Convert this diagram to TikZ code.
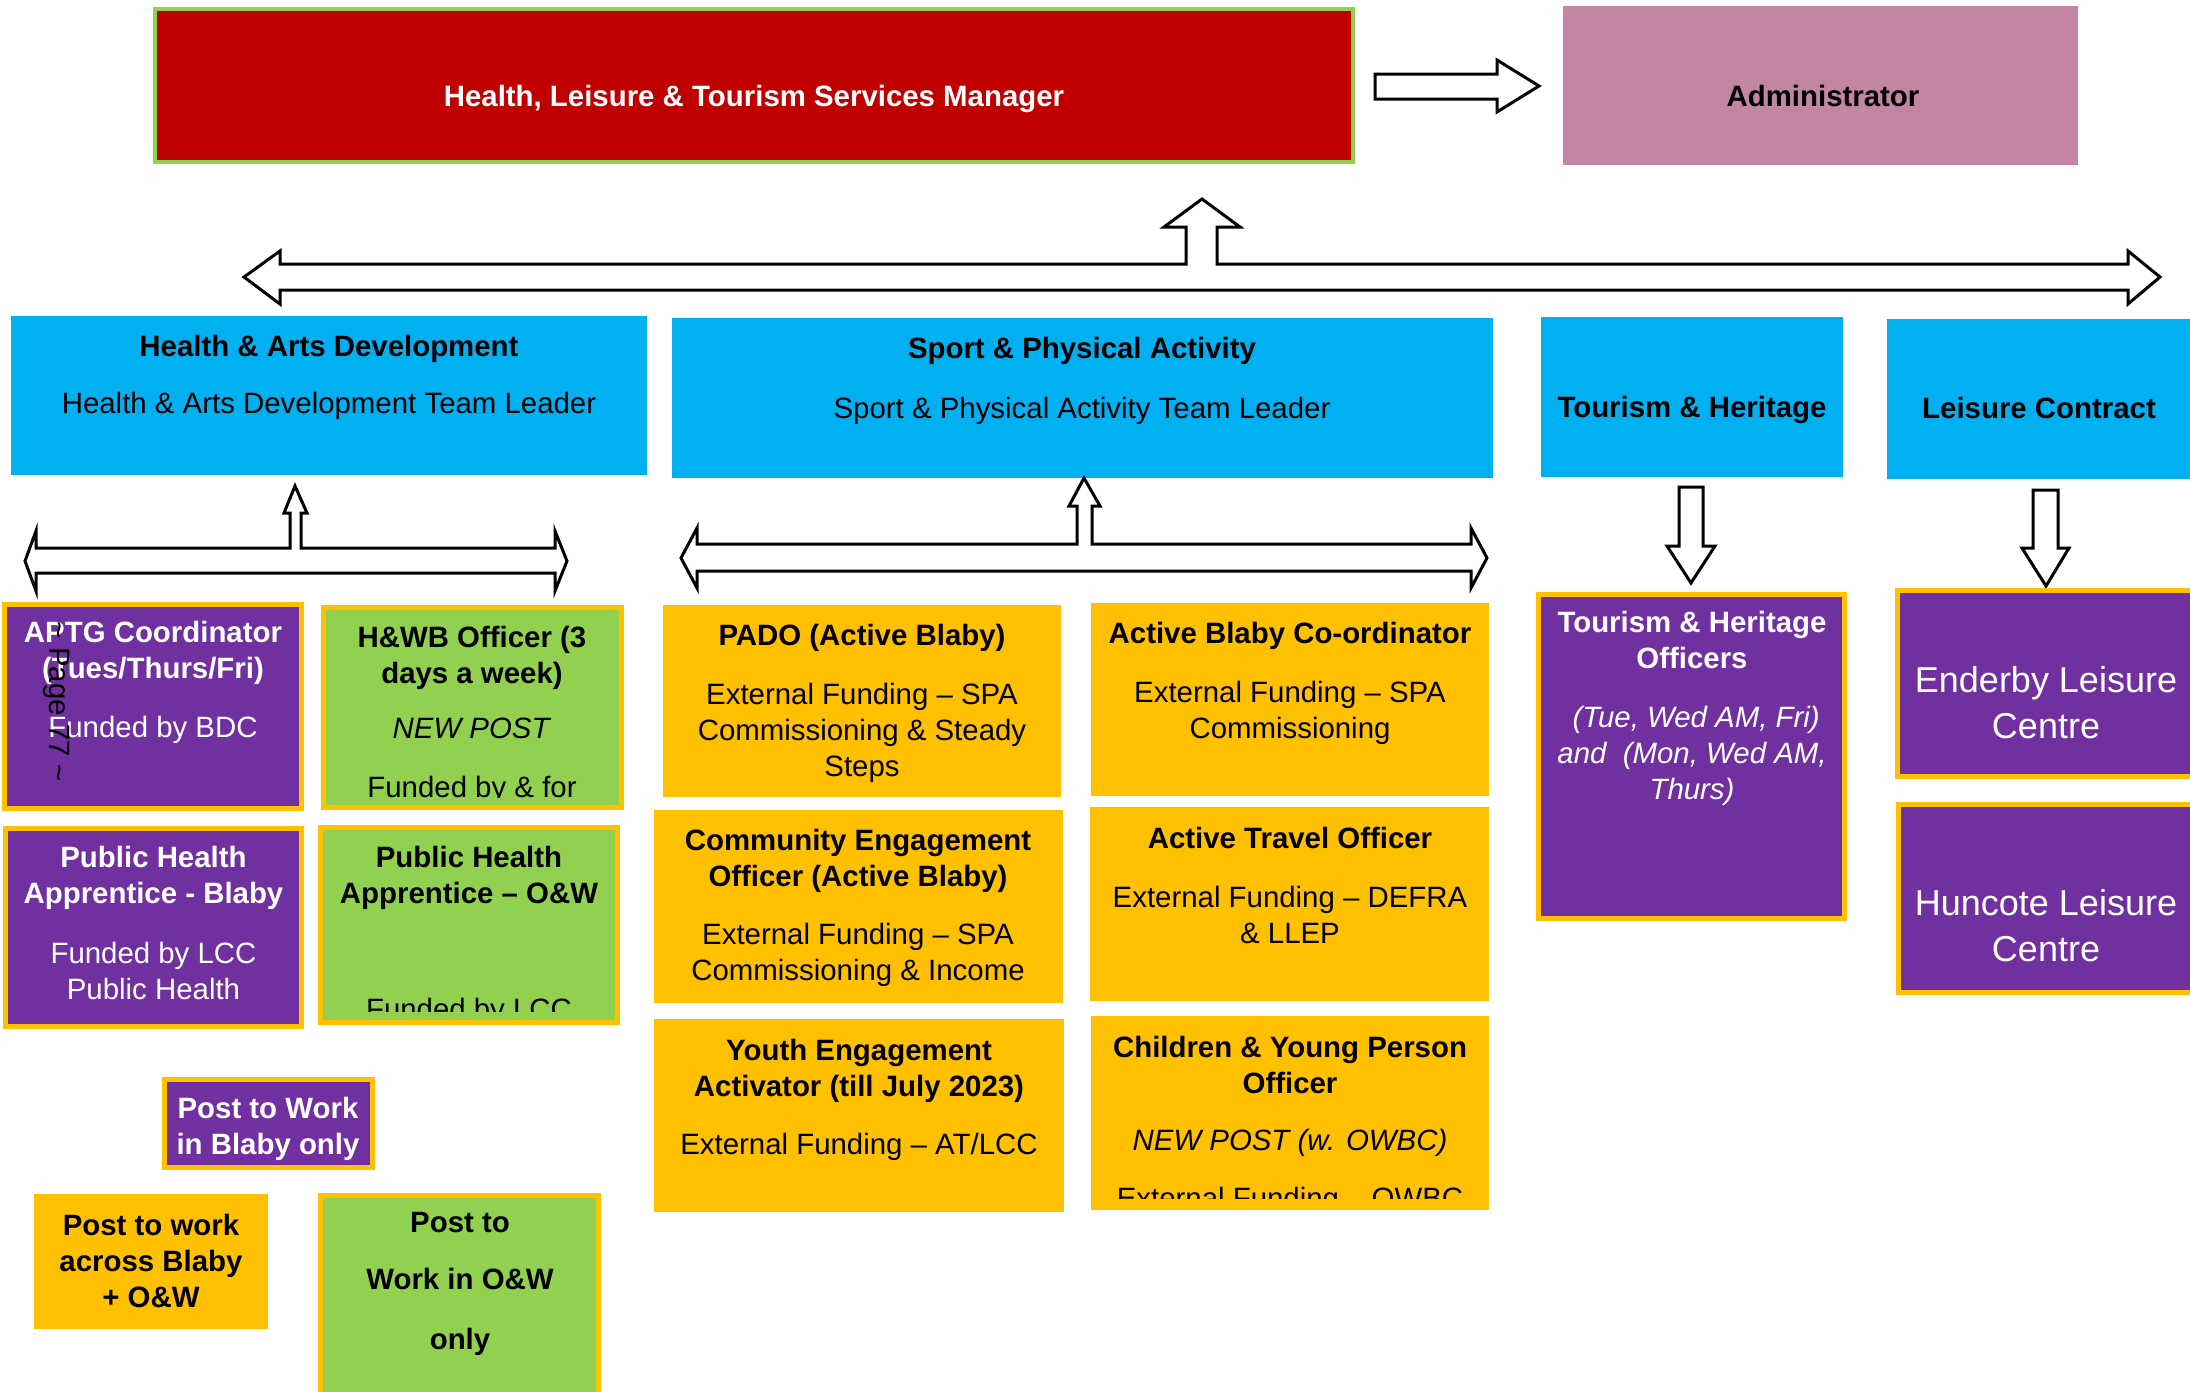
\documentclass[tikz,border=0pt]{standalone}
\usepackage{fontspec}
\setmainfont{Liberation Sans}
\usepackage{tikz}
\usetikzlibrary{positioning}
\definecolor{MgrRed}{HTML}{C00000}
\definecolor{LineGreen}{HTML}{92D050}
\definecolor{AdminPink}{HTML}{C285A3}
\definecolor{TeamBlue}{HTML}{00B0F0}
\definecolor{PostPurple}{HTML}{7030A0}
\definecolor{PostOrange}{HTML}{FFC000}
\definecolor{PostGreen}{HTML}{92D050}
\tikzset{
  mgrbox/.style={draw=LineGreen,fill=MgrRed,line width=2pt,inner sep=0pt},
  adminbox/.style={fill=AdminPink,inner sep=0pt},
  teambox/.style={fill=TeamBlue,inner sep=0pt},
  purplepost/.style={draw=PostOrange,fill=PostPurple,line width=2.5pt,inner sep=0pt},
  greenpost/.style={draw=PostOrange,fill=PostGreen,line width=2.5pt,inner sep=0pt},
  yellowpost/.style={fill=PostOrange,inner sep=0pt},
  boxtxt/.style={
    anchor=north,align=center,inner sep=0pt,
    font=\fontsize{14.7}{18}\selectfont
  },
  whitetxt/.style={boxtxt,text=white},
  bigtxt/.style={
    anchor=north,align=center,inner sep=0pt,text=white,
    font=\fontsize{18}{23}\selectfont
  },
  blockarrow/.style={draw=black,fill=white,line width=1.5pt,line join=miter},
}
\begin{document}
\begin{tikzpicture}[x=0.5pt,y=-0.5pt]
  \useasboundingbox (0,0) rectangle (2190,1392);
  % manager and administrator
  \node[mgrbox, minimum width=599pt, minimum height=76.5pt] (mgr) at (754,85.5) {};
  \node[whitetxt, font=\fontsize{14.7}{18}\selectfont\bfseries] (mgr-t) at (754,85) {Health, Leisure \& Tourism Services Manager};
  \node[adminbox, minimum width=257.5pt, minimum height=79.5pt] (admin) at (1820.5,85.5) {};
  \node[boxtxt, font=\fontsize{14.7}{18}\selectfont\bfseries] (admin-t) at (1823,85) {Administrator};
  \draw[blockarrow] (1375,74) -- (1497,74) -- (1497,60) -- (1539,86) -- (1497,112) -- (1497,99) -- (1375,99) -- cycle;
  \draw[blockarrow] (244,277) -- (280,251) -- (280,264) -- (1186,264) -- (1186,227) -- (1164,227) -- (1202,199) -- (1240,227) -- (1217,227) -- (1217,264) -- (2128,264) -- (2128,251) -- (2160,277) -- (2128,304) -- (2128,290) -- (280,290) -- (280,304) -- cycle;
  % team leaders
  \node[teambox, minimum width=318pt, minimum height=79.5pt] (had) at (329,395.5) {};
  \node[boxtxt] (had-t) at (329,335) {\textbf{Health \& Arts Development}\\[10.5pt]Health \& Arts Development Team Leader};
  \node[teambox, minimum width=410.5pt, minimum height=80pt] (spa) at (1082.5,398) {};
  \node[boxtxt] (spa-t) at (1082,337) {\textbf{Sport \& Physical Activity}\\[12pt]Sport \& Physical Activity Team Leader};
  \node[teambox, minimum width=151pt, minimum height=80pt] (tah) at (1692,397) {};
  \node[boxtxt] (tah-t) at (1692,396) {\textbf{Tourism \& Heritage}};
  \node[teambox, minimum width=152.5pt, minimum height=80pt] (lc) at (2039.5,399) {};
  \node[boxtxt] (lc-t) at (2039,397) {\textbf{Leisure Contract}};
  \draw[blockarrow] (25,561) -- (36,531) -- (36,548) -- (290,548) -- (290,513) -- (284,513) -- (295,486) -- (307,513) -- (301,513) -- (301,548) -- (555,548) -- (555,531) -- (567,561) -- (555,591) -- (555,573) -- (36,573) -- (36,591) -- cycle;
  \draw[blockarrow] (681,558) -- (697,528) -- (697,544) -- (1077,544) -- (1077,506) -- (1069,506) -- (1084,478) -- (1100,506) -- (1092,506) -- (1092,544) -- (1471,544) -- (1471,528) -- (1487,558) -- (1471,588) -- (1471,571) -- (697,571) -- (697,588) -- cycle;
  \draw[blockarrow] (1679,487) -- (1703,487) -- (1703,546) -- (1715,546) -- (1691,583) -- (1667,546) -- (1679,546) -- cycle;
  \draw[blockarrow] (2033,490) -- (2058,490) -- (2058,548) -- (2069,548) -- (2046,586) -- (2022,548) -- (2033,548) -- cycle;
  % health and arts posts
  \node[purplepost, minimum width=148.5pt, minimum height=102pt] (aptg) at (153,706.5) {};
  \node[whitetxt] (aptg-t) at (153,621) {\textbf{APTG Coordinator}\\\textbf{(Tues/Thurs/Fri)}\\[11.5pt]Funded by BDC};
  \node[greenpost, minimum width=149pt, minimum height=100pt] (hwb) at (472.5,707.5) {};
  \begin{scope}
    \clip (324,600) rectangle (621,797);
    \node[boxtxt] (hwb-t) at (472,626) {\textbf{H\&WB Officer (3}\\\textbf{days a week)}\\[9.5pt]\textit{NEW POST}\\[11.5pt]Funded by \& for};
  \end{scope}
  \node[purplepost, minimum width=148pt, minimum height=99pt] (phb) at (153.5,927.5) {};
  \node[whitetxt] (phb-t) at (153.5,846) {\textbf{Public Health}\\\textbf{Apprentice - Blaby}\\[12pt]Funded by LCC\\Public Health};
  \node[greenpost, minimum width=148.5pt, minimum height=97.5pt] (phow) at (469,925) {};
  \begin{scope}
    \clip (321,820) rectangle (617,1011);
    \node[boxtxt] (phow-t) at (469,846) {\textbf{Public Health}\\\textbf{Apprentice – O\&W}\\[40pt]Funded by LCC};
  \end{scope}
  \node[rotate=-90, inner sep=0pt, font=\fontsize{14.7}{18}\selectfont] (page) at (57,702) {\textasciitilde{} Page 77 \textasciitilde};
  % sport and physical activity posts
  \node[yellowpost, minimum width=199pt, minimum height=96pt] (pado) at (862,701) {};
  \node[boxtxt] (pado-t) at (862,624) {\textbf{PADO (Active Blaby)}\\[11.5pt]External Funding – SPA\\Commissioning \& Steady\\Steps};
  \node[yellowpost, minimum width=199pt, minimum height=96.5pt] (abc) at (1290,699.5) {};
  \node[boxtxt] (abc-t) at (1290,622) {\textbf{Active Blaby Co-ordinator}\\[11.5pt]External Funding – SPA\\Commissioning};
  \node[yellowpost, minimum width=204.5pt, minimum height=96.5pt] (ceo) at (858.5,906.5) {};
  \node[boxtxt] (ceo-t) at (858,829) {\textbf{Community Engagement}\\\textbf{Officer (Active Blaby)}\\[11pt]External Funding – SPA\\Commissioning \& Income};
  \node[yellowpost, minimum width=199.5pt, minimum height=97pt] (ato) at (1289.5,904) {};
  \node[boxtxt] (ato-t) at (1290,827) {\textbf{Active Travel Officer}\\[11.5pt]External Funding – DEFRA\\\& LLEP};
  \node[yellowpost, minimum width=205pt, minimum height=96.5pt] (yea) at (859,1115.5) {};
  \node[boxtxt] (yea-t) at (859,1039) {\textbf{Youth Engagement}\\\textbf{Activator (till July 2023)}\\[11pt]External Funding – AT/LCC};
  \node[yellowpost, minimum width=199pt, minimum height=97pt] (cyp) at (1290,1113) {};
  \begin{scope}
    \clip (1091,1010) rectangle (1489,1198);
    \node[boxtxt] (cyp-t) at (1290,1036) {\textbf{Children \& Young Person}\\\textbf{Officer}\\[10.5pt]\textit{NEW POST (w. OWBC)}\\[11pt]External Funding – OWBC};
  \end{scope}
  % tourism and leisure posts
  \node[purplepost, minimum width=153pt, minimum height=162pt] (tho) at (1691.5,756.5) {};
  \node[whitetxt] (tho-t) at (1692,611) {\textbf{Tourism \& Heritage}\\\textbf{Officers}\\[11.5pt]\textit{\ (Tue, Wed AM, Fri)}\\\textit{and\ \ (Mon, Wed AM,}\\\textit{Thurs)}};
  \node[purplepost, minimum width=148.5pt, minimum height=93pt] (elc) at (2046,683.5) {};
  \node[bigtxt] (elc-t) at (2046,666.5) {Enderby Leisure\\Centre};
  \node[purplepost, minimum width=148pt, minimum height=94pt] (hlc) at (2046.5,898.5) {};
  \node[bigtxt] (hlc-t) at (2046,889.5) {Huncote Leisure\\Centre};
  % key
  \node[purplepost, minimum width=104pt, minimum height=44pt] (key1) at (268.5,1123.5) {};
  \node[whitetxt] (key1-t) at (268,1097) {\textbf{Post to Work}\\\textbf{in Blaby only}};
  \node[yellowpost, minimum width=117pt, minimum height=67.5pt] (key2) at (151,1261.5) {};
  \node[boxtxt] (key2-t) at (151,1214) {\textbf{Post to work}\\\textbf{across Blaby}\\\textbf{+ O\&W}};
  \node[greenpost, minimum width=139pt, minimum height=101pt] (key3) at (459.5,1296.5) {};
  \node[boxtxt] (key3-t) at (460,1212) {\textbf{Post to}\\[10.5pt]\textbf{Work in O\&W}\\[12pt]\textbf{only}};
\end{tikzpicture}
\end{document}
